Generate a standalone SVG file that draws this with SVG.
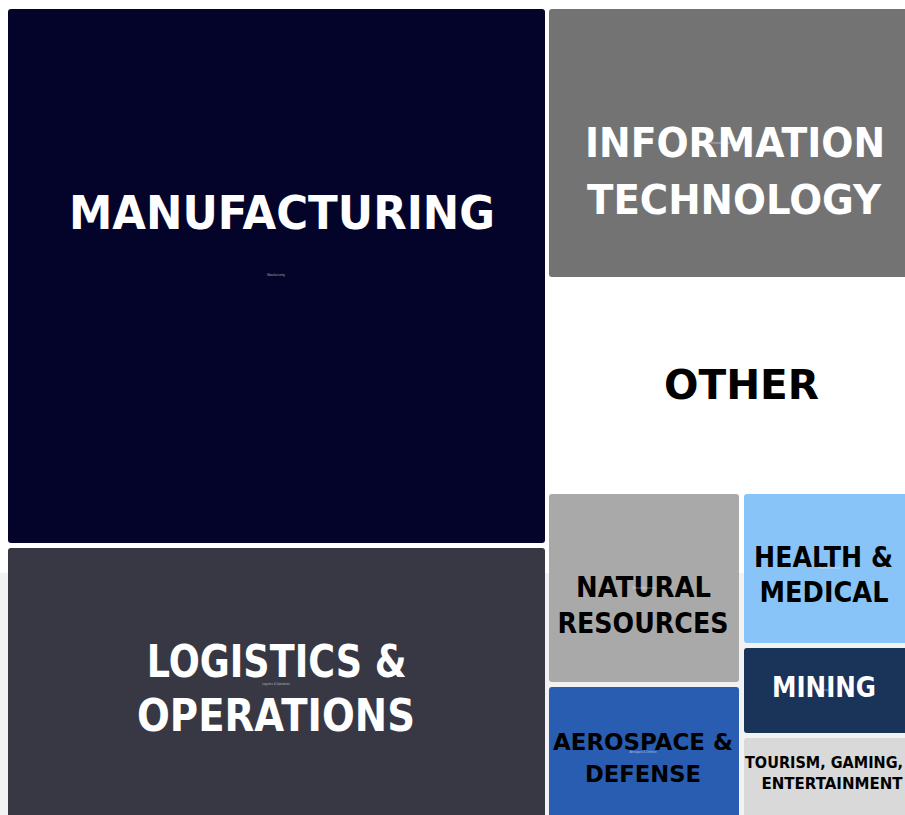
<svg xmlns="http://www.w3.org/2000/svg" width="905" height="815" viewBox="0 0 905 815">
  <style>
    .lbl { font-family: "DejaVu Sans", "Liberation Sans", sans-serif; font-weight: 700; text-anchor: middle; }
    .w { fill: #ffffff; }
    .k { fill: #000000; }
    .tiny { font-family: "Liberation Sans", sans-serif; font-size: 2.8px; fill: #ffffff; fill-opacity: 0.6; text-anchor: middle; }
  </style>
  <rect x="0" y="0" width="905" height="815" fill="#ffffff"/>
  <rect x="0" y="573" width="905" height="242" fill="#f2f2f2"/>

  <g id="manufacturing">
    <rect x="8" y="9" width="537" height="534" rx="3" fill="#04042a"/>
    <text class="lbl w" x="282" y="229" font-size="47" textLength="426" lengthAdjust="spacingAndGlyphs">MANUFACTURING</text>
    <text class="tiny" x="276" y="276">Manufacturing</text>
  </g>

  <g id="information-technology">
    <rect x="549" y="9" width="362" height="268" rx="3" fill="#737373"/>
    <text class="lbl w" x="735" y="157" font-size="40" textLength="300" lengthAdjust="spacingAndGlyphs">INFORMATION</text>
    <text class="lbl w" x="734" y="213.5" font-size="40" textLength="294" lengthAdjust="spacingAndGlyphs">TECHNOLOGY</text>
    <text class="tiny" x="725" y="144">Information Technology</text>
  </g>

  <g id="other">
    <rect x="549" y="281" width="362" height="209" rx="3" fill="#ffffff"/>
    <text class="lbl k" x="741.5" y="399" font-size="41" textLength="155" lengthAdjust="spacingAndGlyphs">OTHER</text>
  </g>

  <g id="natural-resources">
    <rect x="549" y="494" width="190" height="188" rx="3" fill="#a9a9a9"/>
    <text class="lbl k" x="643.5" y="597" font-size="27.5" textLength="135" lengthAdjust="spacingAndGlyphs">NATURAL</text>
    <text class="lbl k" x="643" y="633" font-size="27.5" textLength="171" lengthAdjust="spacingAndGlyphs">RESOURCES</text>
    <text class="tiny" x="644" y="589">Natural Resources</text>
  </g>

  <g id="health-medical">
    <rect x="744" y="494" width="167" height="149" rx="3" fill="#89c4f9"/>
    <text class="lbl k" x="823.5" y="567" font-size="27.5" textLength="139" lengthAdjust="spacingAndGlyphs">HEALTH &amp;</text>
    <text class="lbl k" x="824" y="602" font-size="27.5" textLength="129" lengthAdjust="spacingAndGlyphs">MEDICAL</text>
    <text class="tiny" x="829" y="569">Health &amp; Medical</text>
  </g>

  <g id="mining">
    <rect x="744" y="648" width="167" height="85" rx="3" fill="#1a3459"/>
    <text class="lbl w" x="824" y="697" font-size="27.5" textLength="104" lengthAdjust="spacingAndGlyphs">MINING</text>
    <text class="tiny" x="824" y="691">Mining</text>
  </g>

  <g id="aerospace-defense">
    <rect x="549" y="687" width="190" height="135" rx="3" fill="#285db1"/>
    <text class="lbl k" x="643" y="750" font-size="23.5" textLength="180" lengthAdjust="spacingAndGlyphs">AEROSPACE &amp;</text>
    <text class="lbl k" x="643" y="782" font-size="23.5" textLength="116" lengthAdjust="spacingAndGlyphs">DEFENSE</text>
    <text class="tiny" x="643" y="753">Aerospace &amp; Defense</text>
  </g>

  <g id="tourism-gaming-entertainment">
    <rect x="744" y="738" width="167" height="85" rx="3" fill="#d9d9d9"/>
    <text class="lbl k" x="745" y="768" font-size="15.5" style="text-anchor:start" textLength="158" lengthAdjust="spacingAndGlyphs">TOURISM, GAMING,</text>
    <text class="lbl k" x="761.5" y="789" font-size="15.5" style="text-anchor:start" textLength="141" lengthAdjust="spacingAndGlyphs">ENTERTAINMENT</text>
  </g>

  <g id="logistics-operations">
    <rect x="8" y="548" width="537" height="275" rx="3" fill="#373843"/>
    <text class="lbl w" x="276.7" y="677" font-size="45" textLength="260" lengthAdjust="spacingAndGlyphs">LOGISTICS &amp;</text>
    <text class="lbl w" x="276" y="731" font-size="45" textLength="278" lengthAdjust="spacingAndGlyphs">OPERATIONS</text>
    <text class="tiny" x="276" y="685">Logistics &amp; Operations</text>
  </g>

  <g id="connectors"></g>
</svg>
